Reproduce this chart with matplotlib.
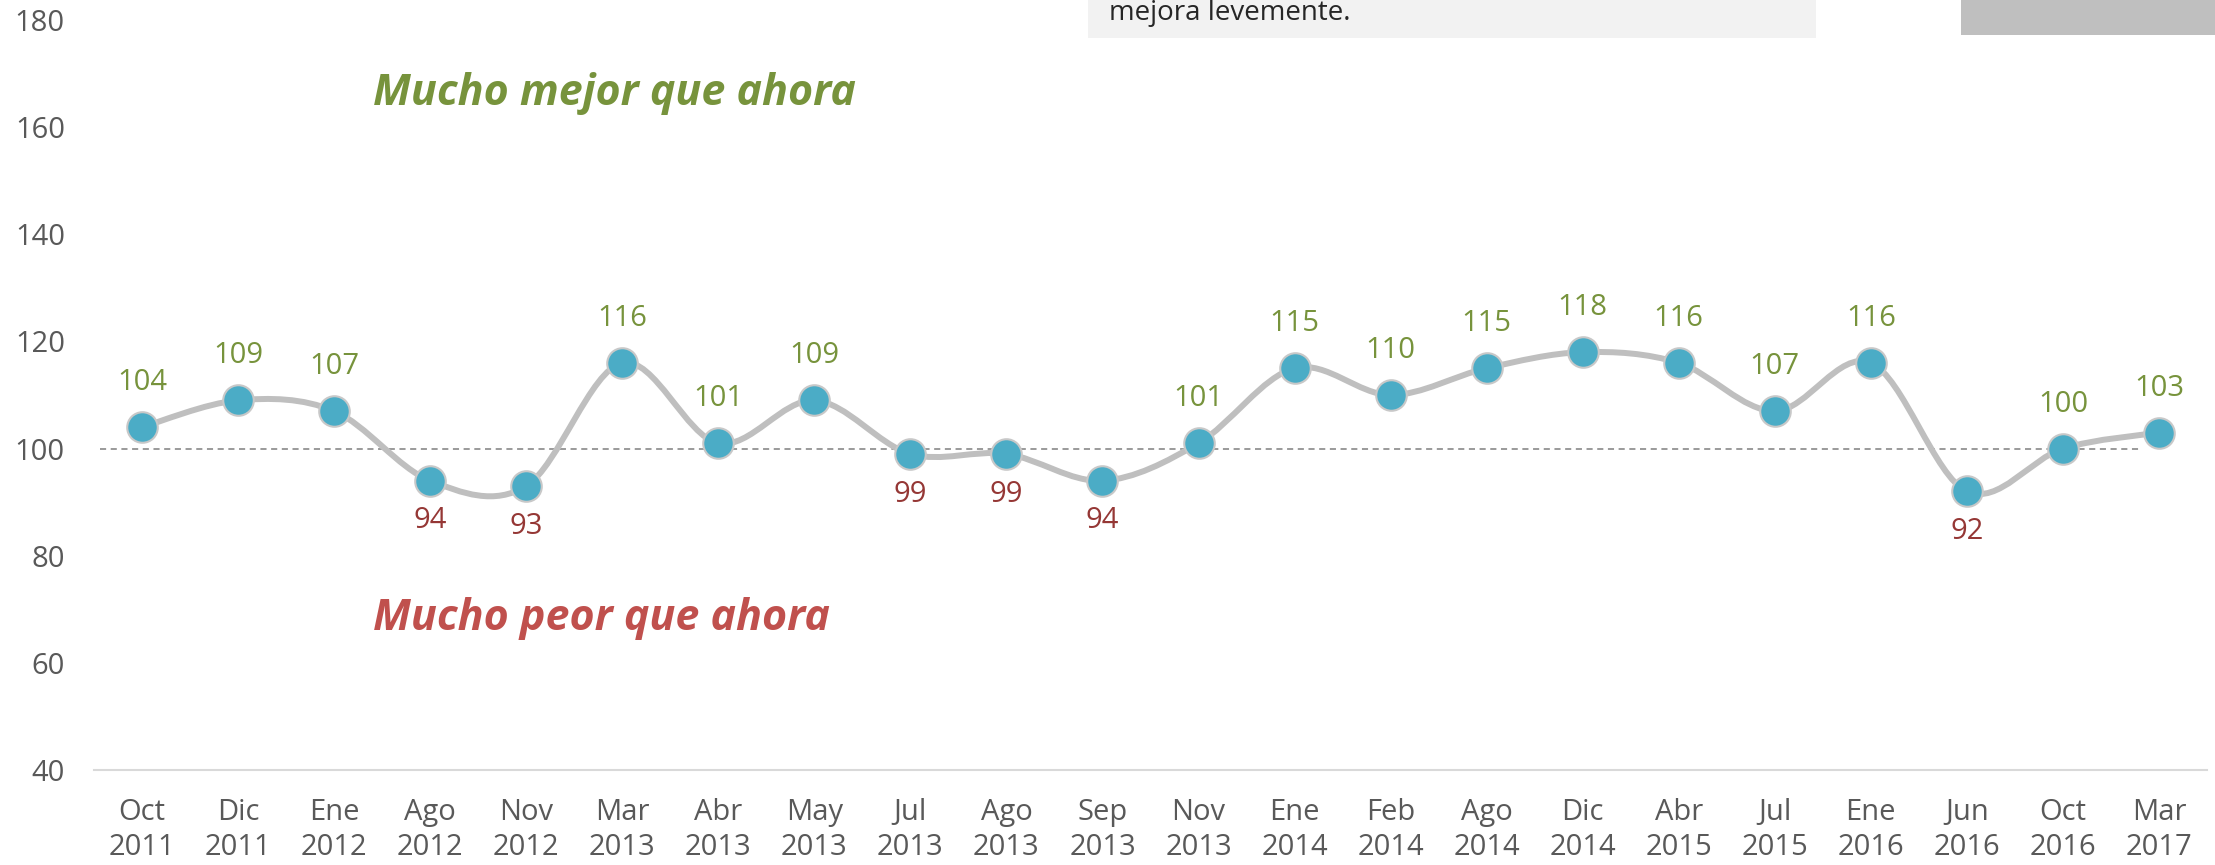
import matplotlib.pyplot as plt
import numpy as np
from matplotlib.path import Path
from matplotlib.patches import PathPatch, Rectangle

plt.rcParams['font.family'] = ['Open Sans', 'DejaVu Sans']

# Data
months = ['Oct', 'Dic', 'Ene', 'Ago', 'Nov', 'Mar', 'Abr', 'May', 'Jul', 'Ago', 'Sep',
          'Nov', 'Ene', 'Feb', 'Ago', 'Dic', 'Abr', 'Jul', 'Ene', 'Jun', 'Oct', 'Mar']
years = ['2011', '2011', '2012', '2012', '2012', '2013', '2013', '2013', '2013', '2013', '2013',
         '2013', '2014', '2014', '2014', '2014', '2015', '2015', '2016', '2016', '2016', '2017']
values = [104, 109, 107, 94, 93, 116, 101, 109, 99, 99, 94,
          101, 115, 110, 115, 118, 116, 107, 116, 92, 100, 103]
y_ticks = [40, 60, 80, 100, 120, 140, 160, 180]
baseline = 100

W, H = 2215, 865
fig = plt.figure(figsize=(W / 100, H / 100), dpi=100)
ax = fig.add_axes([94 / W, (H - 770) / H, (2207 - 94) / W, 750 / H])

x = np.arange(len(values))
y = np.array(values, dtype=float)

# smoothed line (Excel-style) as cubic bezier path
pts = np.column_stack([x, y])
ext = np.vstack([pts[0], pts, pts[-1]])
verts = [tuple(pts[0])]
codes = [Path.MOVETO]
for i in range(len(pts) - 1):
    p0, p1, p2, p3 = ext[i], ext[i + 1], ext[i + 2], ext[i + 3]
    c1 = p1 + (p2 - p0) / 6
    c2 = p2 - (p3 - p1) / 6
    verts += [tuple(c1), tuple(c2), tuple(p2)]
    codes += [Path.CURVE4] * 3
ax.add_patch(PathPatch(Path(verts, codes), fill=False, edgecolor='#BFBFBF',
                       linewidth=4.3, capstyle='round', zorder=3))

ax.plot(x, y, 'o', ms=22, mfc='#4BACC6', mec='#C8C8C8', mew=1.5, zorder=4)

# reference line at 100
ax.axhline(baseline, xmin=0.003, xmax=0.969, color='#7F7F7F', lw=1.1,
           ls=(0, (4, 3)), zorder=2)

# data labels
for xi, v in zip(x, values):
    if v >= baseline:
        ax.annotate(str(v), (xi, v), xytext=(0, 32), textcoords='offset points',
                    ha='center', va='center', fontsize=21, color='#77933C', zorder=5)
    else:
        ax.annotate(str(v), (xi, v), xytext=(0, -29), textcoords='offset points',
                    ha='center', va='center', fontsize=21, color='#953735', zorder=5)

ax.text(2.4, 166.2, 'Mucho mejor que ahora', fontsize=31, fontweight='bold',
        fontstyle='italic', color='#77933C', ha='left', va='center')
ax.text(2.4, 68.3, 'Mucho peor que ahora', fontsize=31, fontweight='bold',
        fontstyle='italic', color='#C0504D', ha='left', va='center')

ax.set_xlim(-0.5, len(values) - 0.5)
ax.set_ylim(40, 180)
ax.set_yticks(y_ticks)
ax.set_xticks(x)
ax.set_xticklabels([f'{m}\n{yr}' for m, yr in zip(months, years)], linespacing=1.3)
ax.tick_params(axis='both', length=0, labelsize=21, labelcolor='#595959')
ax.tick_params(axis='y', pad=21)
ax.tick_params(axis='x', pad=20)
for s in ['top', 'right', 'left']:
    ax.spines[s].set_visible(False)
ax.spines['bottom'].set_color('#D9D9D9')
ax.spines['bottom'].set_linewidth(1.5)

# boxes cut off at the top of the figure
fig.patches.append(Rectangle((1088 / W, 1 - 38 / H), (1816 - 1088) / W, 38 / H,
                             transform=fig.transFigure, facecolor='#F2F2F2',
                             edgecolor='none', zorder=0))
fig.patches.append(Rectangle((1961 / W, 1 - 35 / H), (W - 1961) / W, 35 / H,
                             transform=fig.transFigure, facecolor='#BFBFBF',
                             edgecolor='none', zorder=0))
fig.text(1109 / W, 1 - 20 / H, 'mejora levemente.', fontsize=20, color='#262626',
         ha='left', va='baseline')

fig.savefig('out.png', dpi=100)
